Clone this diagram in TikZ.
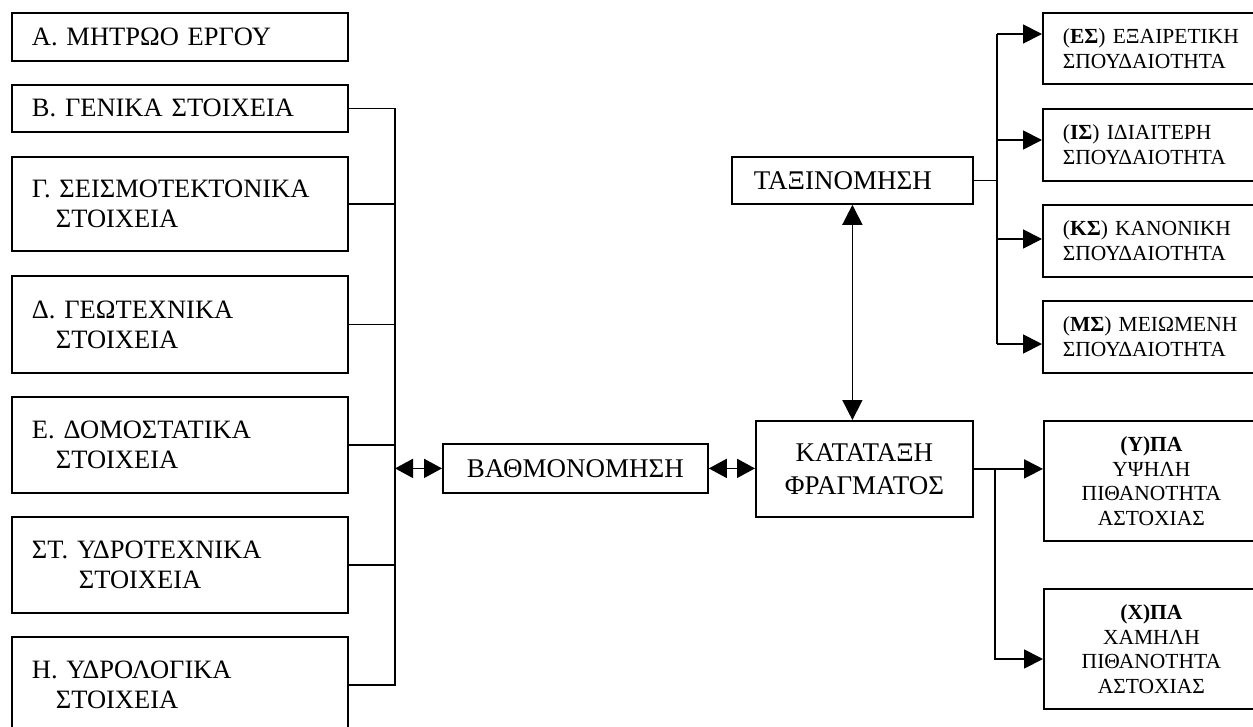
\documentclass[tikz,border=0pt]{standalone}
\usepackage{fontspec}
\setmainfont{Liberation Serif}
\usetikzlibrary{arrows.meta}
\tikzset{
  box/.style={draw, line width=1.8pt, rectangle, inner sep=0pt, anchor=north west},
  lbox/.style={box, minimum width=336pt, text width=296pt, align=left, font=\fontsize{26.5}{30}\selectfont},
  cbox/.style={box, align=center, font=\fontsize{27}{33}\selectfont},
  rbox/.style={box, minimum width=216pt, text width=176pt, align=left, font=\fontsize{21.5}{25}\selectfont},
  pbox/.style={box, minimum width=215pt, minimum height=120pt, align=center, font=\fontsize{21.5}{24.5}\selectfont},
  conn/.style={draw, line width=1.8pt},
  arr/.style={conn, -{Triangle[length=19pt,width=19pt]}},
  dbl/.style={conn, {Triangle[length=18pt,width=19pt]}-{Triangle[length=18pt,width=19pt]}},
  varr/.style={draw, line width=1.6pt, {Triangle[length=20pt,width=20pt]}-{Triangle[length=20pt,width=20pt]}}
}
\begin{document}
\begin{tikzpicture}[x=1pt,y=-1pt]
\useasboundingbox (0,0) rectangle (1253,726);
\clip (0,0) rectangle (1253,726);
% left column
\node[lbox, minimum height=48pt] (a) at (11,12) {\mbox{Α. ΜΗΤΡΩΟ ΕΡΓΟΥ}};
\node[lbox, minimum height=47pt] (b) at (11,84) {\mbox{Β. ΓΕΝΙΚΑ ΣΤΟΙΧΕΙΑ}};
\node[lbox, minimum height=94pt] (g) at (11,156) {\mbox{Γ. ΣΕΙΣΜΟΤΕΚΤΟΝΙΚΑ}\\\hspace*{24pt}ΣΤΟΙΧΕΙΑ};
\node[lbox, minimum height=97pt] (d) at (11,275) {\mbox{Δ. ΓΕΩΤΕΧΝΙΚΑ}\\\hspace*{24pt}ΣΤΟΙΧΕΙΑ};
\node[lbox, minimum height=96pt] (e) at (11,396) {\mbox{Ε. ΔΟΜΟΣΤΑΤΙΚΑ}\\\hspace*{24pt}ΣΤΟΙΧΕΙΑ};
\node[lbox, minimum height=96pt] (st) at (11,516) {\mbox{ΣΤ. ΥΔΡΟΤΕΧΝΙΚΑ}\\\hspace*{47pt}ΣΤΟΙΧΕΙΑ};
\node[lbox, minimum height=96pt] (h) at (11,636) {\mbox{Η. ΥΔΡΟΛΟΓΙΚΑ}\\\hspace*{24pt}ΣΤΟΙΧΕΙΑ};
\coordinate (busx) at (395,0);
\draw[conn] (b.east) -- (b.east -| busx) -- (h.east -| busx) -- (h.east);
\foreach \n in {g,d,e,st} \draw[conn] (\n.east) -- (\n.east -| busx);
% centre
\node[cbox, minimum width=265pt, minimum height=49pt] (vath) at (442,443) {ΒΑΘΜΟΝΟΜΗΣΗ};
\node[cbox, minimum width=217pt, minimum height=96pt] (kat) at (755,420) {ΚΑΤΑΤΑΞΗ\\ΦΡΑΓΜΑΤΟΣ};
\node[box, minimum width=241pt, minimum height=47pt, text width=197pt, align=left, font=\fontsize{27}{33}\selectfont] (tax) at (731,156) {ΤΑΞΙΝΟΜΗΣΗ};
\draw[dbl] (vath.west -| busx) -- (vath.west);
\draw[dbl] (vath.east) -- (vath.east -| kat.west);
\draw[varr] (tax.south) -- (tax.south |- kat.north);
% right top
\node[rbox, minimum height=71pt] (es) at (1042,12) {\mbox{(\textbf{ΕΣ}) ΕΞΑΙΡΕΤΙΚΗ}\\ΣΠΟΥΔΑΙΟΤΗΤΑ};
\node[rbox, minimum height=72pt] (is) at (1042,108) {\mbox{(\textbf{ΙΣ}) ΙΔΙΑΙΤΕΡΗ}\\ΣΠΟΥΔΑΙΟΤΗΤΑ};
\node[rbox, minimum height=72pt] (ks) at (1042,204) {\mbox{(\textbf{ΚΣ}) ΚΑΝΟΝΙΚΗ}\\ΣΠΟΥΔΑΙΟΤΗΤΑ};
\node[rbox, minimum height=72pt] (ms) at (1042,300) {\mbox{(\textbf{ΜΣ}) ΜΕΙΩΜΕΝΗ}\\ΣΠΟΥΔΑΙΟΤΗΤΑ};
\coordinate (r1) at (997,34);
\coordinate (r2) at (997,140);
\coordinate (r3) at (997,239);
\coordinate (r4) at (997,344);
\draw[conn] (tax.east) -- (tax.east -| r1);
\draw[conn] (r1) -- (r4);
\draw[arr] (r1) -- (r1 -| es.west);
\draw[arr] (r2) -- (r2 -| is.west);
\draw[arr] (r3) -- (r3 -| ks.west);
\draw[arr] (r4) -- (r4 -| ms.west);
% right bottom
\node[pbox] (ypa) at (1043,420) {\textbf{(Υ)ΠΑ}\\ΥΨΗΛΗ\\ΠΙΘΑΝΟΤΗΤΑ\\ΑΣΤΟΧΙΑΣ};
\node[pbox] (xpa) at (1043,588) {\textbf{(Χ)ΠΑ}\\ΧΑΜΗΛΗ\\ΠΙΘΑΝΟΤΗΤΑ\\ΑΣΤΟΧΙΑΣ};
\coordinate (kx) at (995,659);
\draw[arr] (kat.east) -- (kat.east -| ypa.west);
\draw[arr] (kat.east -| kx) -- (kx) -- (kx -| xpa.west);
\end{tikzpicture}
\end{document}
